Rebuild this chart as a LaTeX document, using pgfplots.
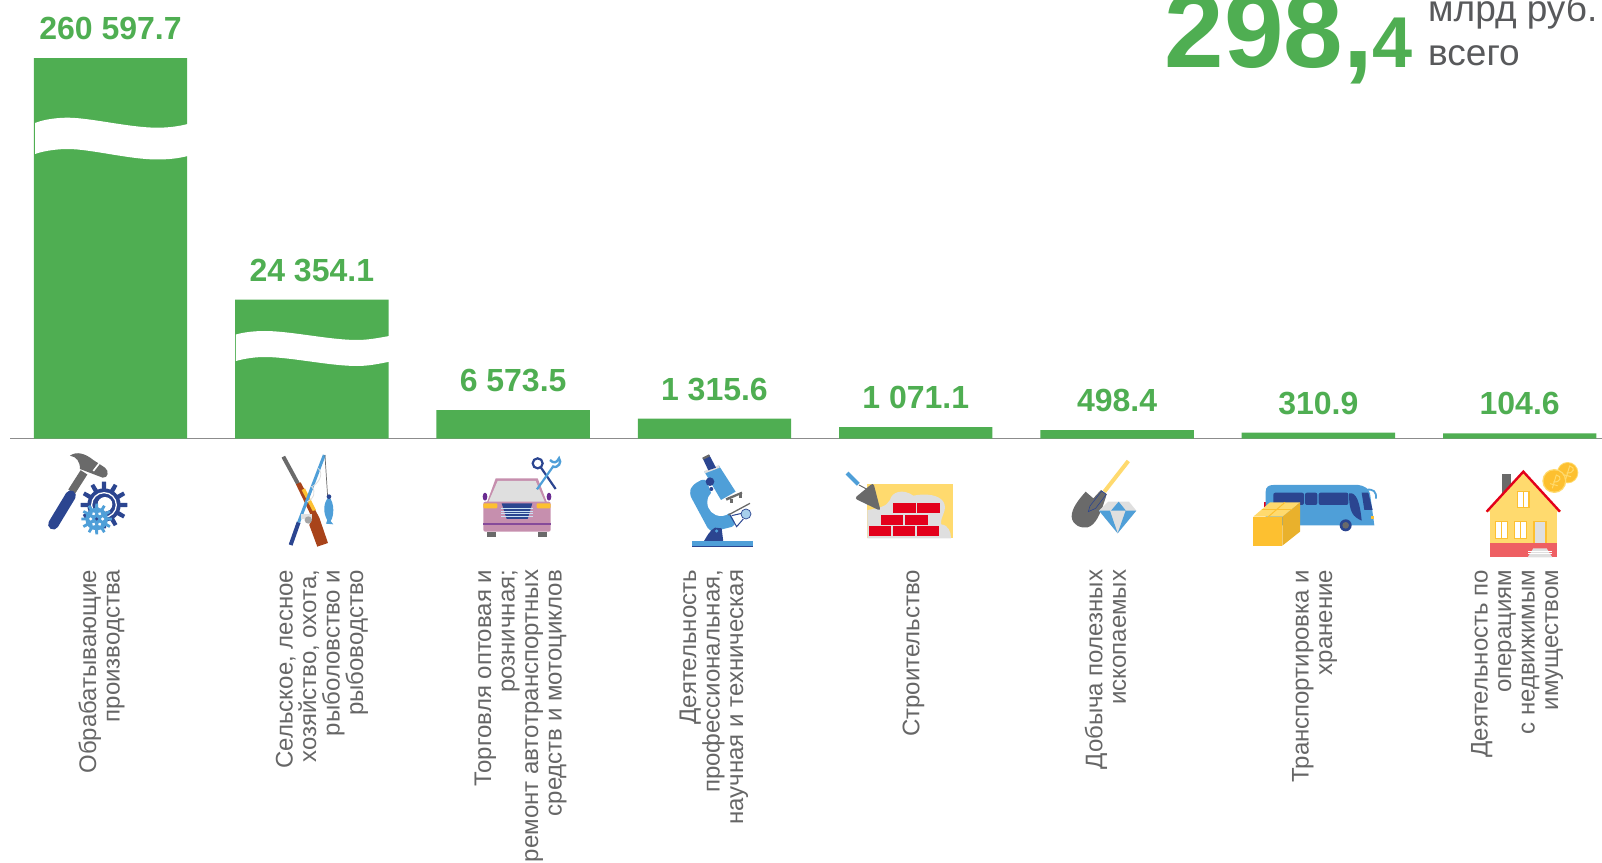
\documentclass[border=0pt]{standalone}
\usepackage{pgfplots}
\pgfplotsset{compat=1.18}
\usepackage{fontspec}
\setmainfont{Liberation Sans}
\definecolor{barg}{HTML}{4FAE52}
\definecolor{axg}{HTML}{8C8C8C}
\definecolor{txg}{HTML}{666666}
\definecolor{unitg}{HTML}{58595B}
\definecolor{navy}{HTML}{2B4590}
\definecolor{lblue}{HTML}{4F9FD8}
\definecolor{igrey}{HTML}{6A6A6A}
\definecolor{pale}{HTML}{DFDFDF}
\definecolor{ired}{HTML}{E3001B}
\definecolor{iyel}{HTML}{FFDA6E}
\definecolor{iora}{HTML}{FDC030}
\definecolor{pink}{HTML}{C68FAE}
\definecolor{purp}{HTML}{6A2C91}
\definecolor{brown}{HTML}{A8431A}
\definecolor{salmon}{HTML}{EE5F63}
\newcommand{\gear}[6]{% x y rbody rtooth n colour
  \fill[#6] (#1,#2) circle (#3);
  \foreach \a in {1,...,#5}{
    \fill[#6,shift={(#1,#2)},rotate=\a*360/#5] (-#3*0.16,0) -- (-#3*0.12,#4) -- (#3*0.12,#4) -- (#3*0.16,0) -- cycle;
  }
}
\begin{document}
\begin{tikzpicture}[x=1pt,y=1pt]
\path[use as bounding box] (-10pt,438.7pt) rectangle (1592pt,-423.3pt);
\begin{axis}[
  at={(0pt,0pt)}, anchor=south west,
  scale only axis, width=1592pt, height=438.7pt,
  xmin=-0.4993, xmax=7.4092, ymin=0, ymax=438.7,
  enlargelimits=false, clip=false,
  axis x line=bottom, axis y line=none,
  x axis line style={-, draw=axg, line width=1.4pt},
  xtick={-0.0447,1.0507,2.037,2.9975,3.989,4.942,5.981,6.987},
  major tick length=0pt,
  xticklabels={
    {Обрабатывающие\\производства},
    {Сельское, лесное\\хозяйство, охота,\\рыболовство и\\рыбоводство},
    {Торговля оптовая и\\розничная;\\ремонт автотранспортных\\средств и мотоциклов},
    {Деятельность\\профессиональная,\\научная и техническая},
    {Строительство},
    {Добыча полезных\\ископаемых},
    {Транспортировка и\\хранение},
    {Деятельность по\\операциям\\с недвижимым\\имуществом}},
  xticklabel style={rotate=90, anchor=east, align=right, inner sep=0pt,
    text=txg, font=\fontsize{24}{23.5}\selectfont},
  xticklabel shift=131pt,
  ybar, bar width=153.4pt, bar shift=0pt,
  point meta=explicit symbolic,
  nodes near coords,
  nodes near coords align={anchor=base},
  every node near coord/.append style={anchor=base, yshift=18.4pt, inner sep=0pt,
    text=barg, font=\fontsize{32}{32}\selectfont\bfseries},
]
\addplot[fill=barg, draw=none] coordinates {
  (0,380.7) [260 597.7]
  (1,139.2) [24 354.1]
  (2,28.7)  [6 573.5]
  (3,20)    [1 315.6]
  (4,11.7)  [1 071.1]
  (5,8.7)   [498.4]
  (6,6)     [310.9]
  (7,5.4)   [104.6]
};
\end{axis}
% everything below in reference pixel coordinates
\begin{scope}[shift={(-10pt,438.7pt)},x=1pt,y=-1pt]
  % breaks in the first two bars
  \fill[white] (35,123) .. controls (45,119) and (58,117.7) .. (68,117.7)
     .. controls (90,117.7) and (130,127.7) .. (157,127.7)
     .. controls (168,127.7) and (178,126.5) .. (187.8,124)
     -- (187.8,156) .. controls (178,158.5) and (168,159.5) .. (157,159.5)
     .. controls (130,159.5) and (90,149) .. (68,149)
     .. controls (58,149) and (45,150.5) .. (35,154) -- cycle;
  \fill[white] (235.8,334.5) .. controls (245,332) and (255,331) .. (265,331)
     .. controls (290,331) and (330,340) .. (357,340)
     .. controls (368,340) and (378,338) .. (389.3,336)
     -- (389.3,361.7) .. controls (378,364) and (368,366) .. (357,366)
     .. controls (330,366) and (290,357) .. (265,357)
     .. controls (255,357) and (245,358.5) .. (235.8,361) -- cycle;
  % total
  \node[anchor=base west,inner sep=0pt,text=barg,font=\bfseries] at (1164.5,68)
    {\fontsize{107}{107}\selectfont 298,\fontsize{72}{72}\selectfont 4};
  \node[anchor=base west,inner sep=0pt,text=unitg,font=\fontsize{37}{37}\selectfont] at (1428,21.7) {млрд руб.};
  \node[anchor=base west,inner sep=0pt,text=unitg,font=\fontsize{37}{37}\selectfont] at (1428,66) {всего};
  % icons: row 1 (crop origin 30,445, scale 3)
  \begin{scope}[shift={(30,445)},x=0.3333pt,y=-0.3333pt]
    \draw[igrey,line width=8pt] (125,140) -- (162,82);
    \draw[navy,line width=10.5pt,line cap=round] (70,238) -- (122,152);
    \fill[igrey] (120,32) .. controls (140,18) and (165,25) .. (190,45) -- (225,68)
       .. controls (238,78) and (235,100) .. (218,98) -- (150,72)
       .. controls (150,50) and (140,35) .. (120,32) -- cycle;
    \draw[white,line width=1.6pt] (190,78) -- (210,52);
    \gear{222}{180}{50}{70}{12}{navy}
    \draw[white,line width=1.3pt] (222,180) circle (37);
    \fill[white] (225,178) circle (22);
    \gear{200}{222}{34}{46}{12}{lblue}
    \foreach \a in {0,60,120}{\fill[white,shift={(200,222)},rotate=\a] (18,0) circle (5) (-18,0) circle (5);}
    \fill[navy] (200,222) circle (5);
    % fishing
    \draw[igrey,line width=4pt] (760,35) -- (805,118);
    \fill[brown] (798,118) -- (812,112) -- (868,218) -- (894,294) -- (862,305) -- (838,240) -- (846,218) -- cycle;
    \fill[iora] (815,135) -- (825,130) -- (858,195) -- (848,198) -- cycle;
    \draw[navy,line width=4pt] (806,232) -- (782,300);
    \draw[lblue,line width=3pt] (883,30) -- (806,232);
    \draw[igrey,line width=0.7pt] (885,30) -- (893,155);
    \draw[pale,line width=0.8pt] (865,70) .. controls (885,90) and (860,120) .. (845,125) .. controls (860,140) and (850,165) .. (832,170);
    \fill[pale] (812,208) rectangle (845,222);
    \fill[igrey!60] (835,225) circle (11);
    \fill[lblue] (897,155) .. controls (915,175) and (912,215) .. (902,228) -- (910,238) -- (888,236) -- (892,226) .. controls (880,205) and (878,175) .. (897,155) -- cycle;
    \fill[navy] (897,155) circle (7);
  \end{scope}
  % row 2 (origin 465,445)
  \begin{scope}[shift={(465,445)},x=0.3333pt,y=-0.3333pt]
    \fill[purp] (60,155) ellipse (7 and 12);
    \fill[purp] (252,155) ellipse (7 and 12);
    \fill[pink] (65,175) -- (92,100) -- (218,100) -- (247,175) -- cycle;
    \fill[pale] (70,172) -- (98,108) -- (212,108) -- (240,172) -- cycle;
    \fill[pink,rounded corners=2pt] (55,170) rectangle (257,260);
    \fill[iora,rounded corners=1pt] (55,175) rectangle (97,190);
    \fill[iora,rounded corners=1pt] (215,175) rectangle (257,190);
    \fill[navy] (110,175) -- (202,175) -- (188,222) -- (125,222) -- cycle;
    \foreach \y in {190,198,206,214}{\draw[white!70!lblue,line width=0.5pt] (108,\y) -- (204,\y);}
    \fill[purp!70!pink] (55,235) rectangle (257,240);
    \fill[igrey] (65,260) rectangle (93,277);
    \fill[igrey] (219,260) rectangle (247,277);
    \draw[navy,line width=2.2pt] (218,55) circle (15);
    \draw[navy,line width=2.2pt] (228,68) -- (272,132);
    \draw[lblue,line width=2.2pt] (216,133) -- (266,62);
    \draw[lblue,line width=2.4pt] (255,45) .. controls (265,55) and (275,55) .. (282,40) .. controls (292,52) and (280,70) .. (262,66);
    % microscope
    \fill[lblue,rounded corners=5pt] (722,98) -- (682,120) -- (672,145) -- (735,262) -- (815,242) -- (795,205) -- (740,150) -- cycle;
    \fill[white] (768,172) circle (41);
    \fill[lblue] (718,80) -- (762,62) -- (812,140) -- (768,165) -- cycle;
    \fill[pale] (718,78) -- (762,60) -- (764,68) -- (720,85) -- cycle;
    \fill[navy] (713,40) -- (733,30) -- (753,68) -- (730,76) -- cycle;
    \fill[igrey] (712,38) -- (732,28) -- (735,34) -- (715,44) -- cycle;
    \fill[navy] (735,110) circle (13);
    \fill[navy] (739,132) circle (6);
    \fill[igrey] (782,160) -- (830,140) -- (832,146) -- (785,167) -- cycle;
    \fill[igrey] (795,162) rectangle (803,175);
    \fill[igrey] (822,148) rectangle (830,160);
    \draw[igrey,line width=1.3pt] (790,210) -- (855,175);
    \draw[navy,line width=1pt] (795,210) -- (815,245) -- (835,222);
    \draw[navy,line width=1pt] (800,212) -- (830,205);
    \fill[lblue!50] (843,207) circle (15);
    \draw[navy,line width=0.7pt] (843,207) circle (15);
    \fill[navy] (716,290) .. controls (725,275) and (735,255) .. (750,248) -- (770,250) -- (775,290) -- cycle;
    \fill[lblue] (755,258) circle (5);
    \fill[lblue] (680,288) rectangle (863,303);
    \fill[navy] (680,303) rectangle (863,307);
  \end{scope}
  % row 3 (origin 835,445)
  \begin{scope}[shift={(835,445)},x=0.3333pt,y=-0.3333pt]
    \fill[iyel] (97,118) rectangle (354,280);
    \fill[pale] (97,280) -- (97,195) .. controls (130,190) and (155,185) .. (165,165)
      .. controls (170,140) and (205,130) .. (235,152) .. controls (270,145) and (310,148) .. (325,170)
      .. controls (340,195) and (315,215) .. (318,238) .. controls (340,240) and (348,260) .. (348,280) -- cycle;
    \foreach \a/\b/\c/\d in {173/175/242/205,246/175/314/205,137/210/205/240,210/210/278/240,101/243/169/273,173/243/241/273,245/243/313/273}{
      \fill[ired] (\a,\b) rectangle (\c,\d);}
    \fill[igrey,rounded corners=3pt] (115,113) -- (58,160) -- (137,198) -- cycle;
    \draw[igrey,line width=1pt] (72,120) -- (100,135);
    \draw[lblue,line width=4pt] (36,84) -- (70,118);
    % shovel
    \draw[iyel,line width=4pt] (880,48) -- (808,140);
    \fill[igrey] (752,140) .. controls (730,165) and (710,190) .. (710,215) .. controls (712,240) and (735,250) .. (758,247)
       .. controls (780,240) and (795,215) .. (815,148) -- (798,135) -- (775,160) -- cycle;
    \draw[navy,line width=0.6pt] (800,138) -- (765,183) -- (760,200) -- (782,190) -- (814,148) -- cycle;
    \fill[pale] (820,170) -- (882,170) -- (904,197) -- (848,265) -- (792,197) -- cycle;
    \fill[lblue] (828,197) -- (851,170) -- (873,197) -- cycle;
    \fill[lblue] (792,197) -- (825,197) -- (848,265) -- cycle;
    \fill[lblue] (904,197) -- (872,197) -- (848,265) -- cycle;
  \end{scope}
  % row 4 (origin 1245,450)
  \begin{scope}[shift={(1245,450)},x=0.3333pt,y=-0.3333pt]
    \fill[ired] (57,155) rectangle (64,170);
    \draw[lblue,line width=1.8pt] (362,120) .. controls (385,115) and (395,125) .. (393,146);
    \fill[lblue] (62,226) -- (62,125) .. controls (62,110) and (72,105) .. (85,105) -- (340,105)
       .. controls (358,107) and (370,115) .. (375,130) -- (388,226) -- cycle;
    \fill[navy,rounded corners=2pt] (85,128) rectangle (177,165);
    \fill[navy,rounded corners=2pt] (180,128) rectangle (217,165);
    \fill[navy,rounded corners=2pt] (221,128) rectangle (310,165);
    \fill[navy] (312,130) .. controls (335,125) and (345,160) .. (350,212) .. controls (325,200) and (312,190) .. (312,130) -- cycle;
    \fill[navy] (350,128) -- (370,128) -- (383,180) -- (358,180) -- cycle;
    \fill[iora] (377,198) rectangle (386,208);
    \fill[navy] (302,226) circle (18);
    \fill[igrey] (302,226) circle (10);
    \fill[iora] (25,200) rectangle (112,287);
    \fill[iora!92!black] (112,200) -- (165,157) -- (165,245) -- (112,287) -- cycle;
    \fill[iyel] (25,200) -- (75,157) -- (165,157) -- (112,200) -- cycle;
    \draw[iora,line width=1pt] (50,178) -- (140,178);
    \draw[iora,line width=1pt] (70,200) -- (120,157);
    % house
    \fill[igrey] (771,72) rectangle (797,135);
    \fill[iyel] (835,62) -- (722,185) -- (947,185) -- cycle;
    \fill[iyel] (735,180) rectangle (935,285);
    \draw[ired,line width=2.4pt,line join=miter] (725,185) -- (835,65) -- (945,185);
    \foreach \a/\b/\c/\d in {818/125/852/172,752/215/788/265,808/215/845/265}{
      \fill[white] (\a,\b) rectangle (\c,\d);
      \draw[iora,line width=1.2pt] (\a,\b) rectangle (\c,\d);
      \draw[iora,line width=0.7pt] ({(\a+\c)/2},\b) -- ({(\a+\c)/2},\d);
    }
    \fill[pale] (867,215) rectangle (903,290);
    \draw[iora,line width=1.2pt] (867,290) -- (867,215) -- (903,215) -- (903,290);
    \fill[salmon] (735,280) rectangle (935,322);
    \fill[pale] (848,322) -- (922,322) -- (905,295) -- (865,295) -- cycle;
    \foreach \y in {303,311}{\draw[white,line width=0.7pt] (850,\y) -- (920,\y);}
    \fill[iyel] (968,68) circle (32);
    \fill[iora] (968,68) circle (29);
    \fill[iyel] (928,93) circle (36);
    \fill[iora] (928,93) circle (32);
    \foreach \cx/\cy in {930/93,970/66}{
      \draw[iyel,line width=1pt] (\cx-8,\cy+22) -- (\cx+4,\cy-18) .. controls (\cx+22,\cy-15) and (\cx+18,\cy+5) .. (\cx-5,\cy+3);
      \draw[iyel,line width=1pt] (\cx-15,\cy+8) -- (\cx+8,\cy+14);
    }
  \end{scope}
\end{scope}
\end{tikzpicture}
\end{document}
